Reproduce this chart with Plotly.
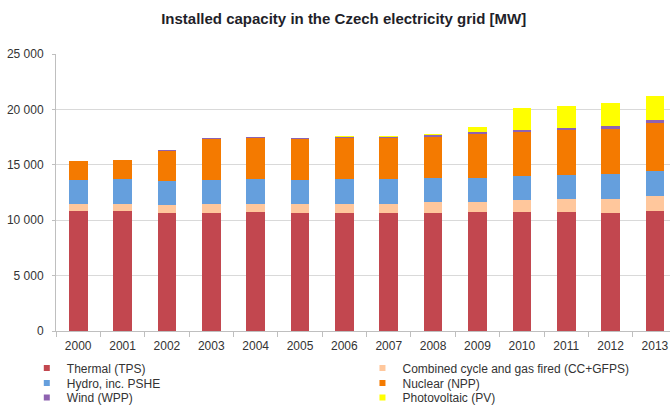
import plotly.graph_objects as go

years = ["2000", "2001", "2002", "2003", "2004", "2005", "2006",
         "2007", "2008", "2009", "2010", "2011", "2012", "2013"]

thermal = [10816, 10816, 10633, 10633, 10720, 10633, 10690,
           10660, 10660, 10720, 10720, 10750, 10630, 10820]
combined = [664, 674, 727, 787, 760, 817, 790,
            820, 940, 940, 1060, 1120, 1300, 1350]
hydro = [2110, 2190, 2200, 2200, 2200, 2200, 2230,
         2200, 2200, 2170, 2230, 2230, 2230, 2260]
nuclear = [1780, 1780, 2740, 3740, 3770, 3740, 3790,
           3770, 3770, 3920, 3920, 4040, 4070, 4360]
wind = [0, 0, 3, 10, 17, 28, 44, 116, 150, 192, 215, 217, 260, 270]
pv = [0, 0, 0, 0, 0, 0, 1, 4, 40, 465, 1959, 1971, 2086, 2132]

y_tickvals = [0, 5000, 10000, 15000, 20000, 25000]
y_ticktext = ["0", "5 000", "10 000", "15 000", "20 000", "25 000"]

series = [
    ("Thermal (TPS)", thermal, "#C2474F"),
    ("Combined cycle and gas fired (CC+GFPS)", combined, "#FFC79C"),
    ("Hydro, inc. PSHE", hydro, "#659FDD"),
    ("Nuclear (NPP)", nuclear, "#F47A00"),
    ("Wind (WPP)", wind, "#8E62B0"),
    ("Photovoltaic (PV)", pv, "#FFFF00"),
]

FONT = "Liberation Sans, Arial, sans-serif"
fig = go.Figure()
for name, vals, color in series:
    fig.add_trace(go.Bar(x=years, y=vals, name=name, marker_color=color,
                         marker_line_width=0, showlegend=False))

# legend: two columns, three rows, one legend per entry
legend_layout = {}
col_x = [0.04, 0.541]
row_y = [0.0936, 0.0567, 0.0210]
for i, (name, vals, color) in enumerate(series):
    key = "legend" if i == 0 else f"legend{i + 1}"
    fig.add_trace(go.Scatter(x=[None], y=[None], mode="markers", name=name,
                             legend=key,
                             marker=dict(symbol="square", size=6, color=color)))
    legend_layout[key] = dict(
        xref="container", x=col_x[i % 2], xanchor="left",
        yref="container", y=row_y[i // 2], yanchor="middle",
        itemwidth=30, font=dict(family=FONT, size=12, color="#333333"),
        bgcolor="rgba(0,0,0,0)", borderwidth=0,
    )

fig.update_layout(
    width=670, height=406,
    barmode="stack", bargap=0.58,
    plot_bgcolor="white", paper_bgcolor="white",
    margin=dict(l=56, r=0, t=54, b=75, autoexpand=False),
    font=dict(family=FONT, size=12, color="#333333"),
    title=dict(text="<b>Installed capacity in the Czech electricity grid [MW]</b>",
               x=0.513, xanchor="center", y=0.955, yanchor="middle",
               font=dict(family=FONT, size=15, color="#1f1f2a")),
    xaxis=dict(type="category", range=[-0.5, 13.34], showgrid=False,
               showline=True, linecolor="#bfbfbf", linewidth=1,
               ticks="outside", tickson="boundaries", ticklen=5,
               tickcolor="#bfbfbf", ticklabelstandoff=4,
               tickfont=dict(size=12, color="#333333")),
    yaxis=dict(range=[0, 25000], tickvals=y_tickvals, ticktext=y_ticktext,
               showgrid=True, gridcolor="#d9d9d9", gridwidth=1,
               showline=True, linecolor="#bfbfbf", linewidth=1,
               ticks="outside", ticklen=3, tickcolor="#bfbfbf",
               ticklabelstandoff=6, zeroline=False,
               tickfont=dict(size=12, color="#333333")),
    **legend_layout,
)

fig.write_html("out.html",
               config={"displayModeBar": False},
               post_script="document.body.style.margin='0';"
                           "document.body.style.padding='0';")
